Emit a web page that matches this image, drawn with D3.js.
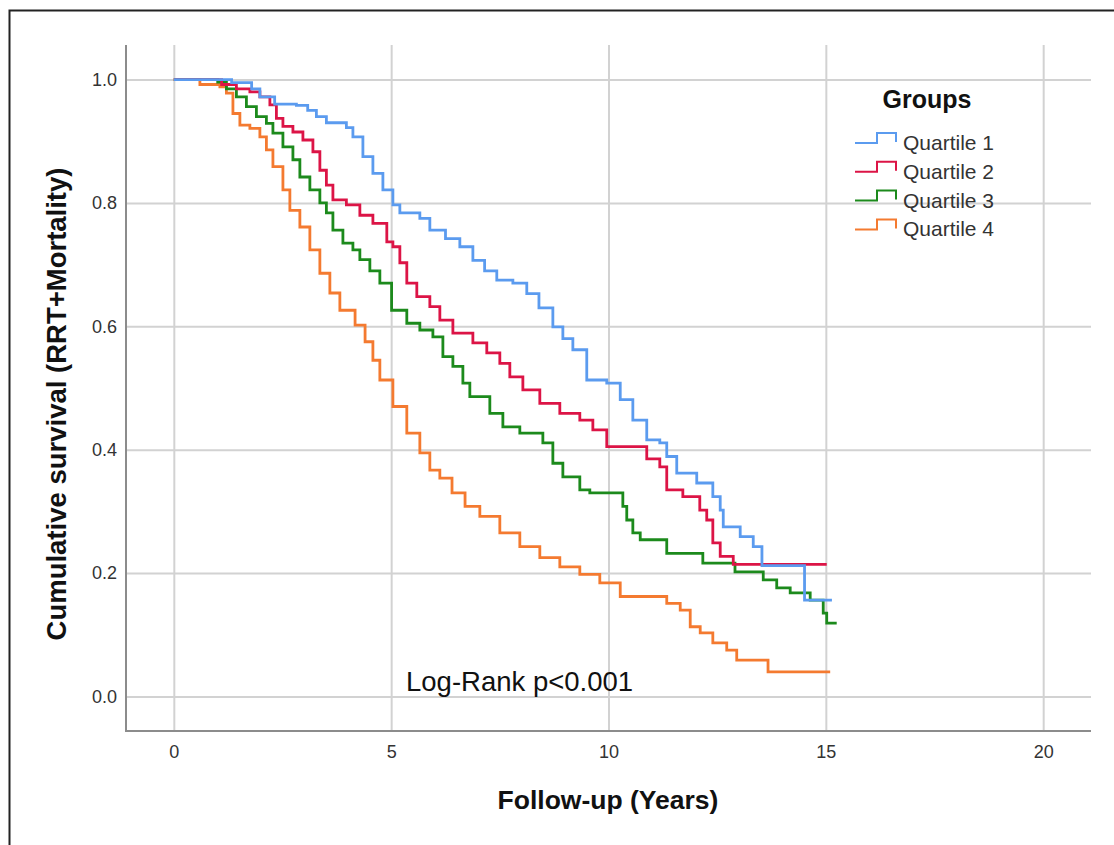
<!DOCTYPE html>
<meta charset="utf-8">
<script src="https://d3js.org/d3.v7.min.js"></script>
<style>
  body { margin: 0; background: #fff; }
  text { font-family: "Liberation Sans", Arial, sans-serif; }
</style>
<div id="km"></div>
<script>
    var width = 1114, height = 845;

    // Kaplan-Meier steps: time (years) where the curve drops, value after the drop
    const q1Times = [1.33, 1.79, 1.98, 2.32, 2.82, 3.08, 3.28, 3.51, 3.97, 4.12, 4.35, 4.58, 4.81, 5.04, 5.20, 5.66, 5.89, 6.25, 6.58, 6.88, 7.15, 7.43, 7.80, 8.12, 8.40, 8.72, 8.95, 9.18, 9.50, 9.96, 10.27, 10.56, 10.88, 11.18, 11.34, 11.57, 12.03, 12.40, 12.57, 12.64, 13.03, 13.33, 13.53, 14.51];
    const q1Surv  = [0.995, 0.985, 0.972, 0.96, 0.958, 0.95, 0.94, 0.93, 0.922, 0.907, 0.875, 0.848, 0.821, 0.797, 0.784, 0.775, 0.756, 0.742, 0.729, 0.707, 0.69, 0.675, 0.670, 0.653, 0.63, 0.599, 0.58, 0.562, 0.513, 0.508, 0.481, 0.448, 0.416, 0.411, 0.389, 0.362, 0.346, 0.324, 0.302, 0.275, 0.259, 0.243, 0.212, 0.156];
    const q1End = 15.14;

    const q2Times = [1.10, 1.44, 1.75, 1.98, 2.21, 2.36, 2.51, 2.74, 2.97, 3.20, 3.36, 3.51, 3.66, 3.97, 4.28, 4.58, 4.90, 5.04, 5.20, 5.36, 5.59, 5.89, 6.12, 6.42, 6.88, 7.20, 7.50, 7.73, 8.03, 8.42, 8.88, 9.34, 9.64, 9.96, 10.88, 11.18, 11.34, 11.71, 12.10, 12.26, 12.40, 12.57, 12.87];
    const q2Surv  = [0.992, 0.985, 0.98, 0.972, 0.959, 0.937, 0.924, 0.915, 0.902, 0.883, 0.853, 0.829, 0.805, 0.797, 0.78, 0.767, 0.737, 0.729, 0.703, 0.670, 0.648, 0.632, 0.610, 0.589, 0.573, 0.557, 0.540, 0.518, 0.497, 0.475, 0.459, 0.448, 0.432, 0.405, 0.385, 0.372, 0.335, 0.324, 0.302, 0.286, 0.249, 0.227, 0.214];
    const q2End = 15.02;

    const q3Times = [1.01, 1.21, 1.44, 1.67, 1.90, 2.13, 2.28, 2.51, 2.74, 2.90, 3.13, 3.36, 3.51, 3.66, 3.89, 4.12, 4.28, 4.51, 4.74, 5.01, 5.36, 5.66, 5.96, 6.19, 6.42, 6.65, 6.81, 7.27, 7.57, 7.96, 8.49, 8.72, 8.95, 9.34, 9.57, 10.33, 10.42, 10.56, 10.73, 11.34, 12.17, 12.91, 13.56, 13.87, 14.18, 14.64, 14.94, 15.02];
    const q3Surv  = [0.996, 0.985, 0.972, 0.956, 0.94, 0.929, 0.913, 0.891, 0.870, 0.842, 0.821, 0.80, 0.784, 0.756, 0.735, 0.724, 0.708, 0.69, 0.670, 0.626, 0.605, 0.594, 0.583, 0.551, 0.535, 0.508, 0.486, 0.459, 0.437, 0.427, 0.411, 0.378, 0.356, 0.335, 0.330, 0.308, 0.286, 0.265, 0.254, 0.232, 0.216, 0.202, 0.189, 0.176, 0.168, 0.156, 0.135, 0.119];
    const q3End = 15.25;

    const q4Times = [0.60, 1.06, 1.21, 1.36, 1.52, 1.75, 1.98, 2.13, 2.28, 2.51, 2.67, 2.90, 3.13, 3.36, 3.59, 3.82, 4.17, 4.40, 4.58, 4.74, 5.04, 5.36, 5.66, 5.89, 6.12, 6.40, 6.70, 7.04, 7.50, 7.96, 8.42, 8.88, 9.34, 9.80, 10.27, 11.34, 11.65, 11.88, 12.11, 12.40, 12.72, 12.95, 13.67];
    const q4Surv  = [0.992, 0.988, 0.978, 0.945, 0.926, 0.921, 0.907, 0.886, 0.859, 0.821, 0.788, 0.761, 0.724, 0.686, 0.654, 0.626, 0.602, 0.575, 0.545, 0.513, 0.47, 0.427, 0.395, 0.367, 0.354, 0.330, 0.308, 0.292, 0.265, 0.243, 0.225, 0.210, 0.198, 0.184, 0.162, 0.151, 0.140, 0.113, 0.103, 0.087, 0.075, 0.059, 0.040];
    const q4End = 15.10;

    const groupNames = ["Quartile 1", "Quartile 2", "Quartile 3", "Quartile 4"];
    const groupColors = ["#5b9bef", "#dc1446", "#1c8a1c", "#f47a30"];
    const xTicks = [0, 5, 10, 15, 20];
    const yTicks = [0.0, 0.2, 0.4, 0.6, 0.8, 1.0];

    var series = [
        {times: q1Times, surv: q1Surv, end: q1End},
        {times: q2Times, surv: q2Surv, end: q2End},
        {times: q3Times, surv: q3Surv, end: q3End},
        {times: q4Times, surv: q4Surv, end: q4End}
    ];

    var svg = d3.select("#km").append("svg")
        .attr("width", width)
        .attr("height", height);

    // outer frame (only top and left show in the picture)
    svg.append("path")
        .attr("d", "M9.5,845V10.5H1114")
        .attr("fill", "none")
        .attr("stroke", "#222")
        .attr("stroke-width", 2);

    var x = d3.scaleLinear().domain([-1.1, 21.1]).range([126, 1091]);
    var y = d3.scaleLinear().domain([-0.056, 1.056]).range([731, 45]);

    // grid
    svg.append("g")
        .attr("transform", "translate(0,731)")
        .call(d3.axisBottom(x).tickValues(xTicks).tickSize(-686).tickFormat(""))
        .call(g => g.select(".domain").remove())
        .call(g => g.selectAll("line").attr("stroke", "#d2d2d2").attr("stroke-width", 2));
    svg.append("g")
        .attr("transform", "translate(126,0)")
        .call(d3.axisLeft(y).tickValues(yTicks).tickSize(-965).tickFormat(""))
        .call(g => g.select(".domain").remove())
        .call(g => g.selectAll("line").attr("stroke", "#d2d2d2").attr("stroke-width", 2));

    // axis lines
    svg.append("path")
        .attr("d", "M126," + y.range()[1] + "V731H" + x.range()[1])
        .attr("fill", "none")
        .attr("stroke", "#8c8c8c")
        .attr("stroke-width", 2);

    // tick labels
    svg.append("g")
        .attr("transform", "translate(0,731)")
        .call(d3.axisBottom(x).tickValues(xTicks).tickSize(0).tickPadding(14).tickFormat(d3.format("d")))
        .call(g => g.select(".domain").remove())
        .call(g => g.selectAll("text").attr("font-size", 18).attr("fill", "#333")
            .style("font-family", "Liberation Sans, Arial, sans-serif"));
    svg.append("g")
        .attr("transform", "translate(126,0)")
        .call(d3.axisLeft(y).tickValues(yTicks).tickSize(0).tickPadding(9).tickFormat(d3.format(".1f")))
        .call(g => g.select(".domain").remove())
        .call(g => g.selectAll("text").attr("font-size", 18).attr("fill", "#333")
            .style("font-family", "Liberation Sans, Arial, sans-serif"));

    // curves
    var line = d3.line()
        .x(d => x(d[0]))
        .y(d => y(d[1]))
        .curve(d3.curveStepAfter);

    series.forEach(function(s, i) {
        var pts = [[0, 1]];
        s.times.forEach((t, j) => pts.push([t, s.surv[j]]));
        pts.push([s.end, s.surv[s.surv.length - 1]]);
        s.pts = pts;
    });

    // draw Q4 first so Q1 lies on top, as in the picture
    svg.append("g")
        .selectAll("path")
        .data(series.slice().reverse())
        .enter().append("path")
            .attr("d", d => line(d.pts))
            .attr("fill", "none")
            .attr("stroke", (d, i) => groupColors[3 - i])
            .attr("stroke-width", 2.8);

    // legend
    svg.append("text")
        .attr("x", 927).attr("y", 108)
        .attr("text-anchor", "middle")
        .attr("font-size", 25).attr("font-weight", "bold").attr("fill", "#111")
        .text("Groups");

    var legend = svg.append("g")
        .selectAll("g")
        .data(groupNames)
        .enter().append("g")
            .attr("transform", (d, i) => "translate(0," + (i * 28.8) + ")");
    legend.append("path")
        .attr("d", "M855,143H877V133H896V142")
        .attr("fill", "none")
        .attr("stroke", (d, i) => groupColors[i])
        .attr("stroke-width", 2);
    legend.append("text")
        .attr("x", 903).attr("y", 150)
        .attr("font-size", 21).attr("fill", "#333")
        .text(d => d);

    // titles
    svg.append("text")
        .attr("x", 406).attr("y", 691)
        .attr("font-size", 27.5).attr("fill", "#111")
        .text("Log-Rank p<0.001");

    svg.append("text")
        .attr("x", 608).attr("y", 809)
        .attr("text-anchor", "middle")
        .attr("font-size", 26.5).attr("font-weight", "bold").attr("fill", "#111")
        .text("Follow-up (Years)");

    svg.append("text")
        .attr("transform", "translate(66,404) rotate(-90)")
        .attr("text-anchor", "middle")
        .attr("font-size", 27.5).attr("font-weight", "bold").attr("fill", "#111")
        .text("Cumulative survival (RRT+Mortality)");
</script>
